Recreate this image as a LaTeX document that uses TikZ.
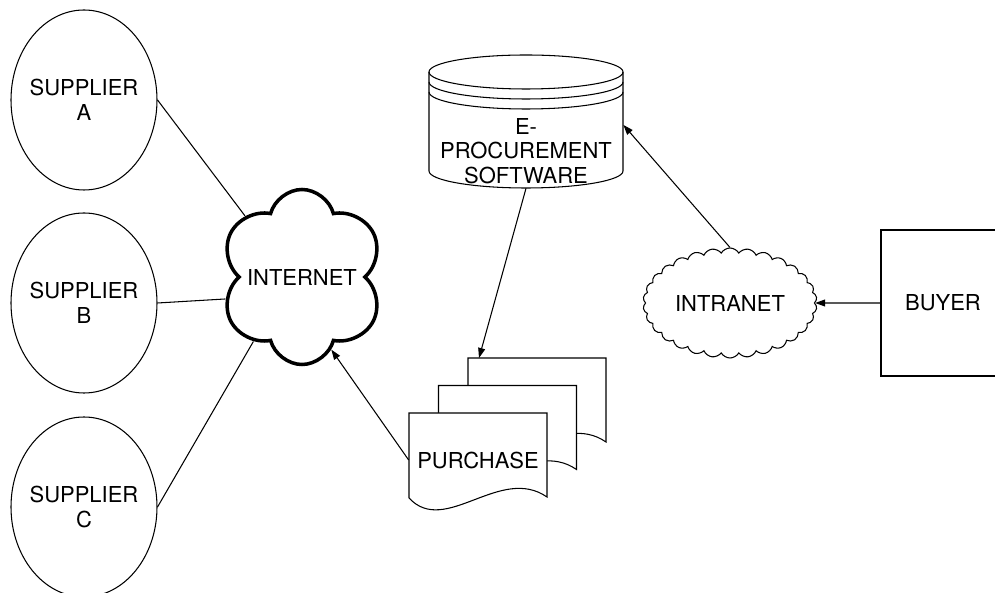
\documentclass[tikz,border=0pt]{standalone}
\usepackage{fontspec}
\setmainfont{TeX Gyre Heros}
\usetikzlibrary{shapes.geometric,shapes.symbols,arrows.meta}
\begin{document}
\begin{tikzpicture}[
  line/.style={draw=black,line width=0.6pt},
  txt/.style={font=\fontsize{12.5}{14}\selectfont,text=black,align=center},
  arr/.style={line,-{Triangle[length=0.2cm,width=0.14cm]}},
  supplier/.style={line,ellipse,txt,inner sep=0pt,inner xsep=-4pt,minimum width=2.92cm,minimum height=3.6cm},
]
\useasboundingbox (0,0) rectangle (19.9,11.84);
\node[supplier] (supA) at (1.68,9.84) {SUPPLIER\\A};
\node[supplier] (supB) at (1.68,5.78) {SUPPLIER\\B};
\node[supplier] (supC) at (1.68,1.70) {SUPPLIER\\C};
\node[cloud,cloud puffs=6,cloud puff arc=150,cloud ignores aspect,draw,line width=2pt,
  minimum width=3.3cm,minimum height=3.5cm,txt] (net) at (6.04,6.30) {INTERNET};
\draw[line] (supA.east) -- (net.133);
\draw[line] (supB.east) -- (net.196);
\draw[line] (supC.east) -- (net.233);
% database
\draw[line,fill=white] (8.58,10.40) -- (8.58,8.42)
  arc[start angle=180,end angle=360,x radius=1.94,y radius=0.34] -- (12.46,10.40);
\draw[line] (10.52,10.40) ellipse (1.94 and 0.34);
\foreach \d in {0.2,0.4}{
  \draw[line] (8.58,{10.40-\d}) arc[start angle=180,end angle=360,x radius=1.94,y radius=0.34];
}
\node[txt,minimum width=3.88cm,minimum height=1.48cm,inner sep=0pt] (db) at (10.52,8.82)
  {E-\\PROCUREMENT\\SOFTWARE};
% purchase orders
\foreach \k in {2,1,0}{
  \draw[line,fill=white,shift={({\k*0.59},{\k*0.55})}] (8.18,1.88) -- (8.18,3.58)
    -- (10.94,3.58) -- (10.94,1.90) .. controls (10.0,2.55) and (8.9,1.1) .. (8.18,1.88) -- cycle;
}
\node[txt,minimum width=2.76cm,inner sep=0pt] (po) at (9.56,2.64) {PURCHASE};
\coordinate (potop) at (9.58,4.68);
\node[cloud,cloud puffs=30,cloud puff arc=120,cloud ignores aspect,line,
  minimum width=3.48cm,minimum height=2.2cm,txt] (int) at (14.6,5.78) {INTRANET};
\node[line,rectangle,txt,minimum width=2.48cm,minimum height=2.92cm] (buyer) at (18.86,5.78) {BUYER};
\draw[arr] (db.south) -- (potop);
\draw[arr] (po.west) -- (net.-68);
\draw[arr] (int.north) -- (db.15);
\draw[arr] (buyer.west) -- (int.east);
\end{tikzpicture}
\end{document}
